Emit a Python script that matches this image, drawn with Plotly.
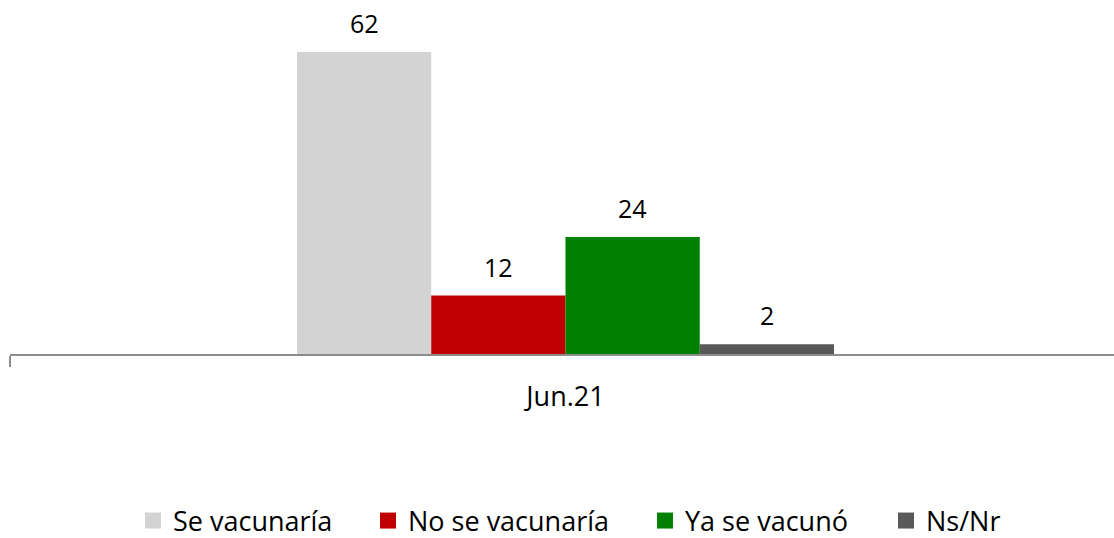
import plotly.graph_objects as go

# Survey wave and response shares (%)
categories = ["Jun.21"]
series_names = ["Se vacunaría", "No se vacunaría", "Ya se vacunó", "Ns/Nr"]
series_values = [[62], [12], [24], [2]]
series_colors = ["#D3D3D3", "#C00000", "#008000", "#595959"]

FONT = "Open Sans"
BARGAP = 0.5166
X_RANGE = [-0.5, 0.4937]
# left edge (px) of each legend entry along the bottom row
LEGEND_LEFT = [133, 368, 645, 886]

fig = go.Figure()

legend_ids = ["legend", "legend2", "legend3", "legend4"]
for name, vals, color, lid in zip(series_names, series_values, series_colors, legend_ids):
    fig.add_trace(go.Bar(
        x=categories, y=vals, name=name,
        marker=dict(color=color, line=dict(width=0)),
        showlegend=False, hoverinfo="skip",
    ))
    # legend entry with a larger square swatch
    fig.add_trace(go.Scatter(
        x=[None], y=[None], mode="markers", name=name,
        marker=dict(symbol="square", size=16, color=color),
        showlegend=True, legend=lid,
    ))

# value labels above each bar of the group
n = len(series_names)
bar_w = (1 - BARGAP) / n
for i, vals in enumerate(series_values):
    for c, v in enumerate(vals):
        fig.add_annotation(
            x=c + (i - (n - 1) / 2) * bar_w, y=v, xref="x", yref="y",
            text=str(v), showarrow=False, yanchor="bottom", yshift=10,
            font=dict(family=FONT, size=25, color="#000000"),
        )

legend_style = dict(
    orientation="h", xanchor="left",
    yref="container", y=1 - 521 / 538, yanchor="middle",
    xref="container",
    font=dict(family=FONT, size=27, color="#000000"),
    itemwidth=30, bgcolor="rgba(0,0,0,0)",
)
legends = {
    lid: dict(legend_style, x=left / 1114)
    for lid, left in zip(legend_ids, LEGEND_LEFT)
}

fig.update_layout(
    width=1114, height=538,
    margin=dict(l=10, r=0, t=13, b=184, autoexpand=False),
    paper_bgcolor="white", plot_bgcolor="white",
    barmode="group", bargap=BARGAP, bargroupgap=0,
    font=dict(family=FONT, size=27, color="#000000"),
    showlegend=True,
    **legends,
    xaxis=dict(
        type="category", range=X_RANGE, showgrid=False, zeroline=False,
        automargin=False,
        showline=True, linecolor="#8C8C8C", linewidth=1.5,
        ticks="outside", tickson="boundaries", ticklen=11,
        tickcolor="#8C8C8C", tickwidth=1.5,
        ticklabelstandoff=18,
        tickfont=dict(family=FONT, size=27, color="#000000"),
    ),
    yaxis=dict(
        range=[0, 70], visible=False, showgrid=False, zeroline=False,
    ),
)

fig.write_html("out.html")
